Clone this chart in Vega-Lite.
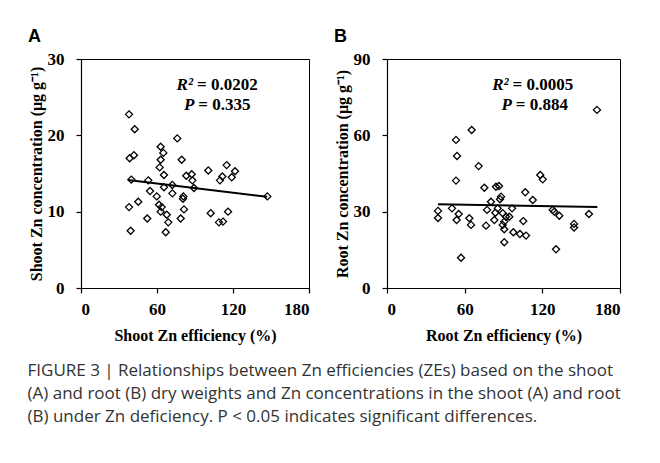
{
  "$schema": "https://vega.github.io/schema/vega-lite/v6.json",
  "padding": {"left": 27, "top": 27, "right": 5, "bottom": 5},
  "background": "white",
  "datasets": {
    "pointsA": [
      {"x": 37.9, "y": 22.75}, {"x": 42.4, "y": 20.8}, {"x": 76.0, "y": 19.6}, {"x": 62.9, "y": 18.5},
      {"x": 65.0, "y": 17.7}, {"x": 41.8, "y": 17.4}, {"x": 38.4, "y": 17.0}, {"x": 62.9, "y": 16.8},
      {"x": 62.1, "y": 15.8}, {"x": 65.5, "y": 14.8}, {"x": 39.7, "y": 14.2}, {"x": 53.1, "y": 14.1},
      {"x": 72.1, "y": 13.5}, {"x": 65.5, "y": 13.2}, {"x": 54.5, "y": 12.7}, {"x": 72.1, "y": 12.4},
      {"x": 59.8, "y": 12.0}, {"x": 61.6, "y": 10.9}, {"x": 45.2, "y": 11.3}, {"x": 37.9, "y": 10.6},
      {"x": 63.7, "y": 10.6}, {"x": 62.9, "y": 10.0}, {"x": 67.7, "y": 9.6}, {"x": 52.3, "y": 9.1},
      {"x": 68.9, "y": 8.6}, {"x": 39.2, "y": 7.5}, {"x": 66.9, "y": 7.3}, {"x": 79.5, "y": 16.8},
      {"x": 100.5, "y": 15.4}, {"x": 115.0, "y": 16.1}, {"x": 121.6, "y": 15.3}, {"x": 83.1, "y": 14.7},
      {"x": 87.4, "y": 14.9}, {"x": 87.9, "y": 14.1}, {"x": 111.6, "y": 14.6}, {"x": 109.7, "y": 14.1},
      {"x": 119.0, "y": 14.5}, {"x": 89.2, "y": 13.1}, {"x": 80.8, "y": 12.0}, {"x": 81.3, "y": 10.3},
      {"x": 102.4, "y": 9.8}, {"x": 116.1, "y": 10.0}, {"x": 78.7, "y": 9.1}, {"x": 108.9, "y": 8.6},
      {"x": 112.1, "y": 8.7}, {"x": 147.1, "y": 12.0}, {"x": 80.5, "y": 11.7}
    ],
    "pointsB": [
      {"x": 65.4, "y": 62.1}, {"x": 53.3, "y": 58.2}, {"x": 54.1, "y": 51.9}, {"x": 70.8, "y": 47.9},
      {"x": 53.3, "y": 42.2}, {"x": 118.4, "y": 44.4}, {"x": 120.3, "y": 42.7}, {"x": 75.2, "y": 39.4},
      {"x": 84.2, "y": 39.8}, {"x": 86.5, "y": 40.1}, {"x": 106.8, "y": 37.6}, {"x": 88.1, "y": 35.9},
      {"x": 87.3, "y": 34.9}, {"x": 112.6, "y": 34.6}, {"x": 80.3, "y": 33.9}, {"x": 96.6, "y": 31.3},
      {"x": 77.3, "y": 30.7}, {"x": 85.5, "y": 31.3}, {"x": 128.0, "y": 30.7}, {"x": 129.2, "y": 30.0},
      {"x": 133.1, "y": 28.4}, {"x": 50.2, "y": 31.3}, {"x": 55.4, "y": 29.1}, {"x": 53.8, "y": 26.7},
      {"x": 63.6, "y": 27.4}, {"x": 64.9, "y": 24.8}, {"x": 83.7, "y": 29.6}, {"x": 89.4, "y": 29.4},
      {"x": 91.9, "y": 28.0}, {"x": 94.5, "y": 28.0}, {"x": 82.9, "y": 26.7}, {"x": 90.6, "y": 26.1},
      {"x": 76.5, "y": 24.5}, {"x": 89.4, "y": 24.8}, {"x": 105.3, "y": 26.3}, {"x": 90.6, "y": 23.1},
      {"x": 97.6, "y": 21.9}, {"x": 102.7, "y": 21.2}, {"x": 107.4, "y": 20.6}, {"x": 90.6, "y": 18.0},
      {"x": 130.6, "y": 15.2}, {"x": 57.2, "y": 11.9}, {"x": 39.4, "y": 30.3}, {"x": 39.4, "y": 27.5},
      {"x": 144.5, "y": 25.2}, {"x": 144.5, "y": 23.8}, {"x": 156.0, "y": 29.1}, {"x": 162.2, "y": 70.0}
    ],
    "lineA": [{"x": 37, "y": 14.15}, {"x": 147, "y": 11.95}],
    "lineB": [{"x": 39.4, "y": 32.9}, {"x": 162.5, "y": 31.8}],
    "statsA": [
      {"x": 90, "y": 26.6, "lab": "R²", "val": "= 0.0202"},
      {"x": 91, "y": 24.0, "lab": "P", "val": "= 0.335"}
    ],
    "statsB": [
      {"x": 95.5, "y": 79.8, "lab": "R²", "val": "= 0.0005"},
      {"x": 98, "y": 71.9, "lab": "P", "val": "= 0.884"}
    ]
  },
  "title": {
    "text": [
      "FIGURE 3 | Relationships between Zn efficiencies (ZEs) based on the shoot",
      "(A) and root (B) dry weights and Zn concentrations in the shoot (A) and root",
      "(B) under Zn deficiency. P < 0.05 indicates significant differences."
    ],
    "orient": "bottom",
    "anchor": "start",
    "frame": "bounds",
    "font": "Open Sans",
    "fontSize": 17,
    "fontWeight": "normal",
    "color": "#333333",
    "lineHeight": 23,
    "offset": 19
  },
  "spacing": 22,
  "hconcat": [
    {
      "width": 228,
      "height": 229,
      "title": {"text": "A", "anchor": "start", "frame": "bounds", "font": "Liberation Sans", "fontSize": 18, "fontWeight": "bold", "color": "black", "offset": 4},
      "layer": [
        {
          "data": {"name": "pointsA"},
          "mark": {"type": "point", "shape": "diamond", "filled": false, "stroke": "black", "strokeWidth": 1.3, "size": 50, "opacity": 1},
          "encoding": {
            "x": {"field": "x", "type": "quantitative", "scale": {"domain": [0, 180], "nice": false}, "axis": {"values": [0, 60, 120, 180], "title": "Shoot Zn efficiency (%)"}},
            "y": {"field": "y", "type": "quantitative", "scale": {"domain": [0, 30], "nice": false}, "axis": {"values": [0, 10, 20, 30], "title": "Shoot Zn concentration (μg g⁻¹)"}}
          }
        },
        {
          "data": {"name": "lineA"},
          "mark": {"type": "line", "color": "black", "strokeWidth": 2},
          "encoding": {
            "x": {"field": "x", "type": "quantitative"},
            "y": {"field": "y", "type": "quantitative"}
          }
        },
        {
          "data": {"name": "statsA"},
          "mark": {"type": "text", "align": "right", "baseline": "middle", "dx": -2, "font": "Liberation Serif", "fontSize": 17, "fontWeight": "bold", "fontStyle": "italic", "color": "black"},
          "encoding": {
            "x": {"field": "x", "type": "quantitative"},
            "y": {"field": "y", "type": "quantitative"},
            "text": {"field": "lab"}
          }
        },
        {
          "data": {"name": "statsA"},
          "mark": {"type": "text", "align": "left", "baseline": "middle", "dx": 2, "font": "Liberation Serif", "fontSize": 17, "fontWeight": "bold", "color": "black"},
          "encoding": {
            "x": {"field": "x", "type": "quantitative"},
            "y": {"field": "y", "type": "quantitative"},
            "text": {"field": "val"}
          }
        }
      ]
    },
    {
      "width": 233,
      "height": 229,
      "title": {"text": "B", "anchor": "start", "frame": "bounds", "font": "Liberation Sans", "fontSize": 18, "fontWeight": "bold", "color": "black", "offset": 4},
      "layer": [
        {
          "data": {"name": "pointsB"},
          "mark": {"type": "point", "shape": "diamond", "filled": false, "stroke": "black", "strokeWidth": 1.3, "size": 50, "opacity": 1},
          "encoding": {
            "x": {"field": "x", "type": "quantitative", "scale": {"domain": [0, 180], "nice": false}, "axis": {"values": [0, 60, 120, 180], "title": "Root Zn efficiency (%)"}},
            "y": {"field": "y", "type": "quantitative", "scale": {"domain": [0, 90], "nice": false}, "axis": {"values": [0, 30, 60, 90], "title": "Root Zn concentration (μg g⁻¹)"}}
          }
        },
        {
          "data": {"name": "lineB"},
          "mark": {"type": "line", "color": "black", "strokeWidth": 2},
          "encoding": {
            "x": {"field": "x", "type": "quantitative"},
            "y": {"field": "y", "type": "quantitative"}
          }
        },
        {
          "data": {"name": "statsB"},
          "mark": {"type": "text", "align": "right", "baseline": "middle", "dx": -2, "font": "Liberation Serif", "fontSize": 17, "fontWeight": "bold", "fontStyle": "italic", "color": "black"},
          "encoding": {
            "x": {"field": "x", "type": "quantitative"},
            "y": {"field": "y", "type": "quantitative"},
            "text": {"field": "lab"}
          }
        },
        {
          "data": {"name": "statsB"},
          "mark": {"type": "text", "align": "left", "baseline": "middle", "dx": 2, "font": "Liberation Serif", "fontSize": 17, "fontWeight": "bold", "color": "black"},
          "encoding": {
            "x": {"field": "x", "type": "quantitative"},
            "y": {"field": "y", "type": "quantitative"},
            "text": {"field": "val"}
          }
        }
      ]
    }
  ],
  "config": {
    "view": {"stroke": "black", "strokeWidth": 1},
    "axis": {
      "grid": false,
      "domainColor": "black",
      "domainWidth": 1.2,
      "tickColor": "black",
      "tickWidth": 1.2,
      "tickSize": 5,
      "labelFont": "Liberation Serif",
      "labelFontSize": 17,
      "labelFontWeight": "bold",
      "labelColor": "black",
      "titleFont": "Liberation Serif",
      "titleFontSize": 16,
      "titleFontWeight": "bold",
      "titleColor": "black"
    },
    "axisX": {"labelPadding": 8, "titlePadding": 10},
    "axisY": {"labelPadding": 12, "titlePadding": 3}
  }
}
